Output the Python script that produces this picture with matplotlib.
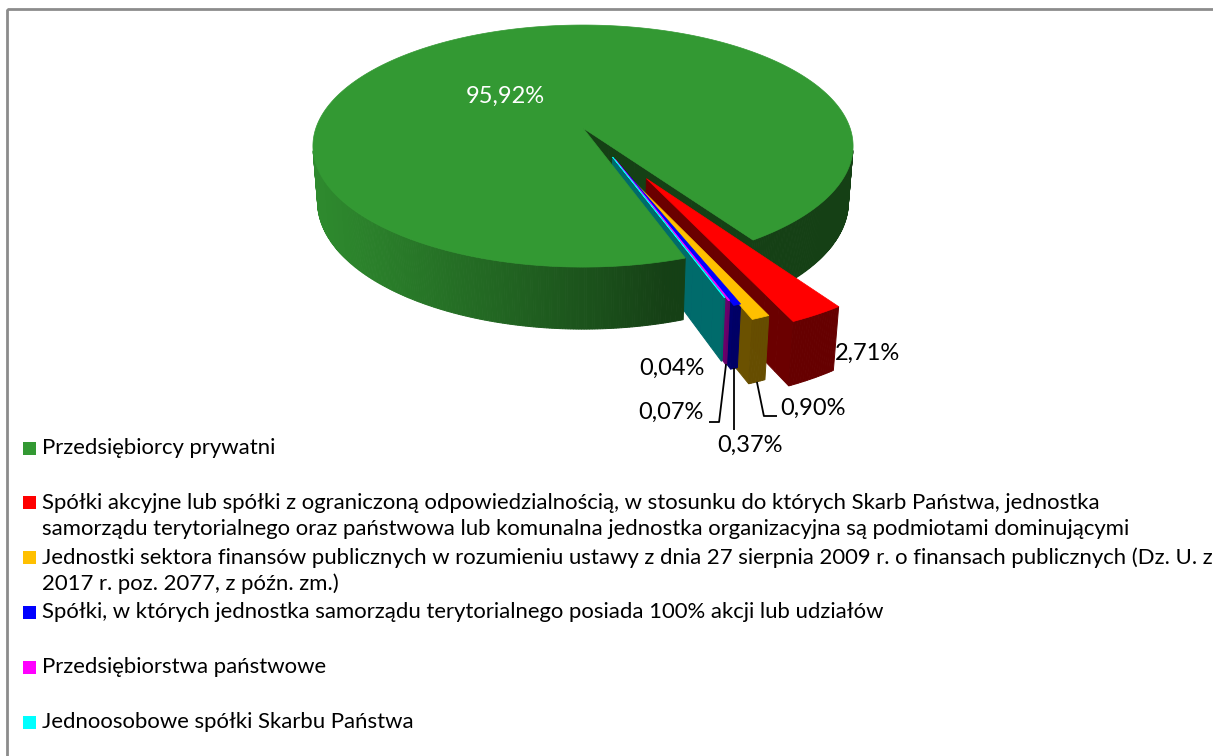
import numpy as np
import matplotlib.pyplot as plt
from matplotlib.patches import Polygon, Rectangle
from matplotlib.colors import to_rgb

plt.rcParams['font.family'] = ['Lato', 'DejaVu Sans']

names = [
    'Przedsiębiorcy prywatni',
    'Spółki akcyjne lub spółki z ograniczoną odpowiedzialnością, w stosunku do których Skarb Państwa, jednostka\n'
    'samorządu terytorialnego oraz państwowa lub komunalna jednostka organizacyjna są podmiotami dominującymi',
    'Jednostki sektora finansów publicznych w rozumieniu ustawy z dnia 27 sierpnia 2009 r. o finansach publicznych (Dz. U. z\n'
    '2017 r. poz. 2077, z późn. zm.)',
    'Spółki, w których jednostka samorządu terytorialnego posiada 100% akcji lub udziałów',
    'Przedsiębiorstwa państwowe',
    'Jednoosobowe spółki Skarbu Państwa',
]
shares = [95.92, 2.71, 0.90, 0.37, 0.07, 0.04]
share_text = ['95,92%', '2,71%', '0,90%', '0,37%', '0,07%', '0,04%']
colors = ['#339933', '#ff0000', '#ffc000', '#0000ff', '#ff00ff', '#00ffff']
explode = [0.0, 0.46, 0.40, 0.31, 0.28, 0.26]
# extra turn of the explosion direction vs. the slice bisector (degrees)
explode_turn = [0, 0, 0, 3.7, 5.0, 5.0]

W, H = 1213, 756
fig = plt.figure(figsize=(W / 100, H / 100), dpi=100)
ax = fig.add_axes([0, 0, 1, 1])
ax.set_xlim(0, W)
ax.set_ylim(H, 0)
ax.axis('off')

# perspective camera for the 3d pie (pixel space)
elev = np.radians(26.3)
cs, sn = np.cos(elev), np.sin(elev)
dist = 6.01
focal = 1605
cx, cy = 583, 128
thick = 0.235
first_angle = -70.8
cam = np.array([0.0, -dist * cs, dist * sn])


def proj(x, y, z):
    d = y * cs + dist - z * sn
    return cx + focal * x / d, cy - focal * (y * sn + z * cs) / d, d


def face(pts3):
    p = [proj(*q) for q in pts3]
    xy = [(a, b) for a, b, _ in p]
    depth = np.mean([c for _, _, c in p])
    return xy, depth


walls = []  # (group, depth, xy, colour)
tops = []
anchors = []
total = sum(shares)
angle = first_angle
for i, (v, col, ex) in enumerate(zip(shares, colors, explode)):
    sweep = 360 * v / total
    a0, a1 = angle, angle - sweep
    angle = a1
    mid = np.radians((a0 + a1) / 2)
    edir = mid + np.radians(explode_turn[i])
    ox, oy = ex * np.cos(edir), ex * np.sin(edir)
    rgb = np.array(to_rgb(col))
    n = max(2, int(np.ceil(sweep / 0.5)) + 1)
    th = np.radians(np.linspace(a0, a1, n))
    rx, ry = ox + np.cos(th), oy + np.sin(th)

    tops.append(([proj(ox, oy, 0)[:2]] + [proj(x, y, 0)[:2] for x, y in zip(rx, ry)], rgb))

    # outer wall
    for k in range(n - 1):
        tm = (th[k] + th[k + 1]) / 2
        nx, ny = np.cos(tm), np.sin(tm)
        if (ox + nx - cam[0]) * nx + (oy + ny - cam[1]) * ny >= 0:
            continue
        if i == 0:
            shade = 0.42 + 0.48 * max(np.cos(tm - np.radians(195)), 0)
            group = len(shares) if tm > np.radians(a0 - 180) else 0
        else:
            shade = 0.40
            group = i
        xy, dep = face([(rx[k], ry[k], 0), (rx[k + 1], ry[k + 1], 0),
                        (rx[k + 1], ry[k + 1], -thick), (rx[k], ry[k], -thick)])
        walls.append((group, dep, xy, rgb * shade))

    # radial faces
    for a, nrm in [(a0, a0 + 90), (a1, a1 - 90)]:
        nx, ny = np.cos(np.radians(nrm)), np.sin(np.radians(nrm))
        if (ox - cam[0]) * nx + (oy - cam[1]) * ny >= 0:
            continue
        ux, uy = np.cos(np.radians(a)), np.sin(np.radians(a))
        rr = np.linspace(0, 1, 13)
        for k in range(len(rr) - 1):
            p0 = (ox + rr[k] * ux, oy + rr[k] * uy)
            p1 = (ox + rr[k + 1] * ux, oy + rr[k + 1] * uy)
            xy, dep = face([(p0[0], p0[1], 0), (p1[0], p1[1], 0),
                            (p1[0], p1[1], -thick), (p0[0], p0[1], -thick)])
            walls.append((i, dep, xy, rgb * 0.42))

    anchors.append(proj(ox + np.cos(mid), oy + np.sin(mid), -thick)[:2])

walls.sort(key=lambda w: (w[0], -w[1]))
for group, dep, xy, c in walls:
    ax.add_patch(Polygon(xy, closed=True, fc=c, ec=c, lw=0.7, zorder=2))
for xy, c in tops:
    ax.add_patch(Polygon(xy, closed=True, fc=c, ec=c, lw=0.5, zorder=3))

# data labels
lab_fs = 17
ax.text(505, 96, share_text[0], color='white', fontsize=lab_fs, ha='center', va='center', zorder=5)
ax.text(835, 353, share_text[1], color='black', fontsize=lab_fs, ha='left', va='center', zorder=5)
ax.text(780, 408, share_text[2], color='black', fontsize=lab_fs, ha='left', va='center', zorder=5)
ax.text(750, 445, share_text[3], color='black', fontsize=lab_fs, ha='center', va='center', zorder=5)
ax.text(704, 412, share_text[4], color='black', fontsize=lab_fs, ha='right', va='center', zorder=5)
ax.text(705, 368, share_text[5], color='black', fontsize=lab_fs, ha='right', va='center', zorder=5)

# leader lines
lk = dict(color='black', lw=1.3, zorder=4, solid_capstyle='butt')
x2, y2 = anchors[2]
ax.plot([x2, x2 + 7, 777], [y2, 416, 416], **lk)
x3, y3 = anchors[3]
ax.plot([x3, x3], [y3, 430], **lk)
x4, y4 = anchors[4]
ax.plot([x4, x4 - 7, 709], [y4, 422, 422], **lk)

# legend
leg_fs = 15.9
for i, (name, col) in enumerate(zip(names, colors)):
    y = 448 + i * 54.8
    ax.add_patch(Rectangle((23, y - 6.5), 13, 13, fc=col, ec='none', zorder=5))
    for j, line in enumerate(name.split('\n')):
        ax.text(42, y + j * 26.5, line, fontsize=leg_fs, ha='left', va='center', zorder=5)

# chart frame
ax.add_patch(Rectangle((7, 8.5), W + 20, H + 20, fill=False, ec='#8c8c8c', lw=2, zorder=6))

fig.savefig('out.png', dpi=100)
